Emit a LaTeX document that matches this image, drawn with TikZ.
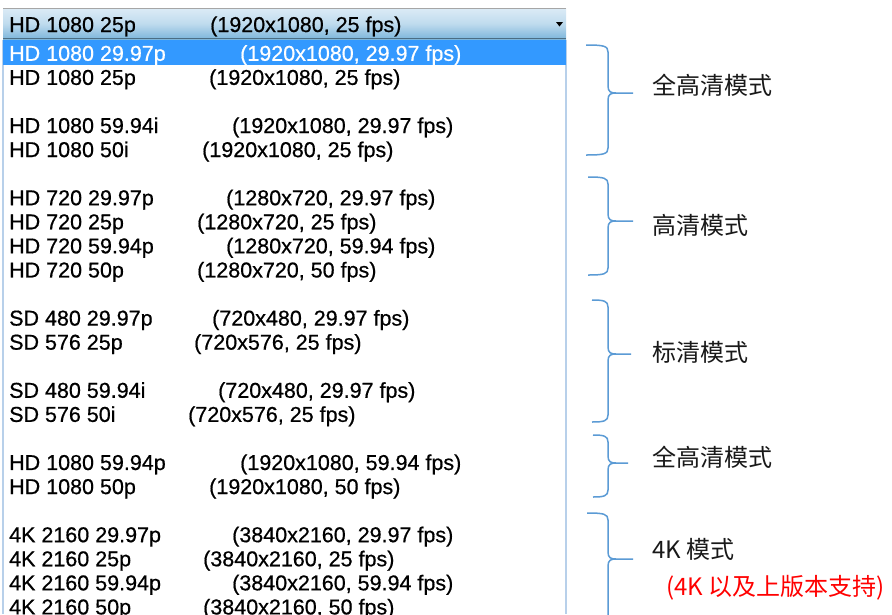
\documentclass[tikz,border=0pt]{standalone}
\usepackage{fontspec}
\setmainfont{Liberation Sans}
\newfontfamily\rowfont[FakeBold=0.6]{Liberation Sans}
\newfontfamily\cjk{Noto Sans CJK SC}
\begin{document}
\begin{tikzpicture}[x=1pt,y=-1pt,
  rowtext/.style={anchor=base west,inner sep=0pt,font=\rowfont\fontsize{21.5}{24}\selectfont,text=black},
  modelabel/.style={anchor=west,inner sep=0pt,font=\cjk\fontsize{24}{28}\selectfont,text=black!90},
  bracelines/.style={draw=braceblue,line width=1.5pt,line join=round}]
\definecolor{braceblue}{HTML}{5B9BD5}
\definecolor{hilite}{HTML}{3399FF}
\definecolor{panelborder}{HTML}{B8D0EA}
\definecolor{headtop}{HTML}{DCEBF6}
\definecolor{headbot}{HTML}{7DB6DB}
\useasboundingbox (0,0) rectangle (892,614);
\fill[white] (0,0) rectangle (892,614);
% panel
\draw[panelborder,line width=2pt] (2.5,40) -- (2.5,614);
\draw[panelborder,line width=2pt] (565.5,40) -- (565.5,614);
% header
\shade[top color=headtop,bottom color=headbot,middle color=headtop!70!headbot] (3,8) rectangle (566,39);
\draw[gray!70,line width=1pt] (3,8.5) -- (566,8.5);
\draw[headbot!60!black,line width=1.2pt] (3,38.6) -- (566,38.6);
\fill[black] (556,22) -- (563,22) -- (559.5,26.5) -- cycle;
\node[rowtext] (h1) at (9,32) {HD 1080 25p};
\node[rowtext] (h2) at (210,32) {(1920x1080, 25 fps)};
% highlight
\fill[hilite] (3,40) rectangle (566,65);
% rows
\foreach \k/\a/\xb/\b/\c in {
  0/{HD 1080 29.97p}/240/{(1920x1080, 29.97 fps)}/white,
  1/{HD 1080 25p}/209/{(1920x1080, 25 fps)}/black,
  3/{HD 1080 59.94i}/232/{(1920x1080, 29.97 fps)}/black,
  4/{HD 1080 50i}/202/{(1920x1080, 25 fps)}/black,
  6/{HD 720 29.97p}/226/{(1280x720, 29.97 fps)}/black,
  7/{HD 720 25p}/197/{(1280x720, 25 fps)}/black,
  8/{HD 720 59.94p}/226/{(1280x720, 59.94 fps)}/black,
  9/{HD 720 50p}/197/{(1280x720, 50 fps)}/black,
  11/{SD 480 29.97p}/212/{(720x480, 29.97 fps)}/black,
  12/{SD 576 25p}/194/{(720x576, 25 fps)}/black,
  14/{SD 480 59.94i}/218/{(720x480, 29.97 fps)}/black,
  15/{SD 576 50i}/188/{(720x576, 25 fps)}/black,
  17/{HD 1080 59.94p}/240/{(1920x1080, 59.94 fps)}/black,
  18/{HD 1080 50p}/209/{(1920x1080, 50 fps)}/black,
  20/{4K 2160 29.97p}/232/{(3840x2160, 29.97 fps)}/black,
  21/{4K 2160 25p}/203/{(3840x2160, 25 fps)}/black,
  22/{4K 2160 59.94p}/232/{(3840x2160, 59.94 fps)}/black,
  23/{4K 2160 50p}/203/{(3840x2160, 50 fps)}/black}{
  \pgfmathsetmacro{\yb}{52.5+24.07*\k+8.3}
  \node[rowtext,text=\c] (ra\k) at (9,\yb) {\a};
  \node[rowtext,text=\c] (rb\k) at (\xb,\yb) {\b};
}
% braces
\newcommand{\modebrace}[5]{% xl, ytop, ymid, ybot, xtip
  \draw[bracelines] (#1,#2) .. controls (604,#2) and (608,#2+1) .. (608,#2+7)
    -- (608,#3-7) .. controls (608,#3-1) and (611,#3) .. (616,#3) -- (#5,#3);
  \draw[bracelines] (616,#3) .. controls (611,#3) and (608,#3+1) .. (608,#3+7)
    -- (608,#4-7) .. controls (608,#4-1) and (604,#4) .. (#1,#4);
}
\modebrace{586}{45}{93}{155}{633}
\modebrace{588}{177}{221}{275}{633}
\modebrace{592}{300}{354}{422}{631}
\modebrace{593}{435}{463}{497}{628}
\modebrace{587}{513}{559}{660}{633}
% labels
\node[modelabel] (m1) at (652,85) {全高清模式};
\node[modelabel] (m2) at (652,225) {高清模式};
\node[modelabel] (m3) at (652,352) {标清模式};
\node[modelabel] (m4) at (652,457) {全高清模式};
\node[modelabel] (m5) at (652,549) {4K 模式};
\node[modelabel,text=red] (m6) at (666,588) {(4K 以及上版本支持)};
\end{tikzpicture}
\end{document}
